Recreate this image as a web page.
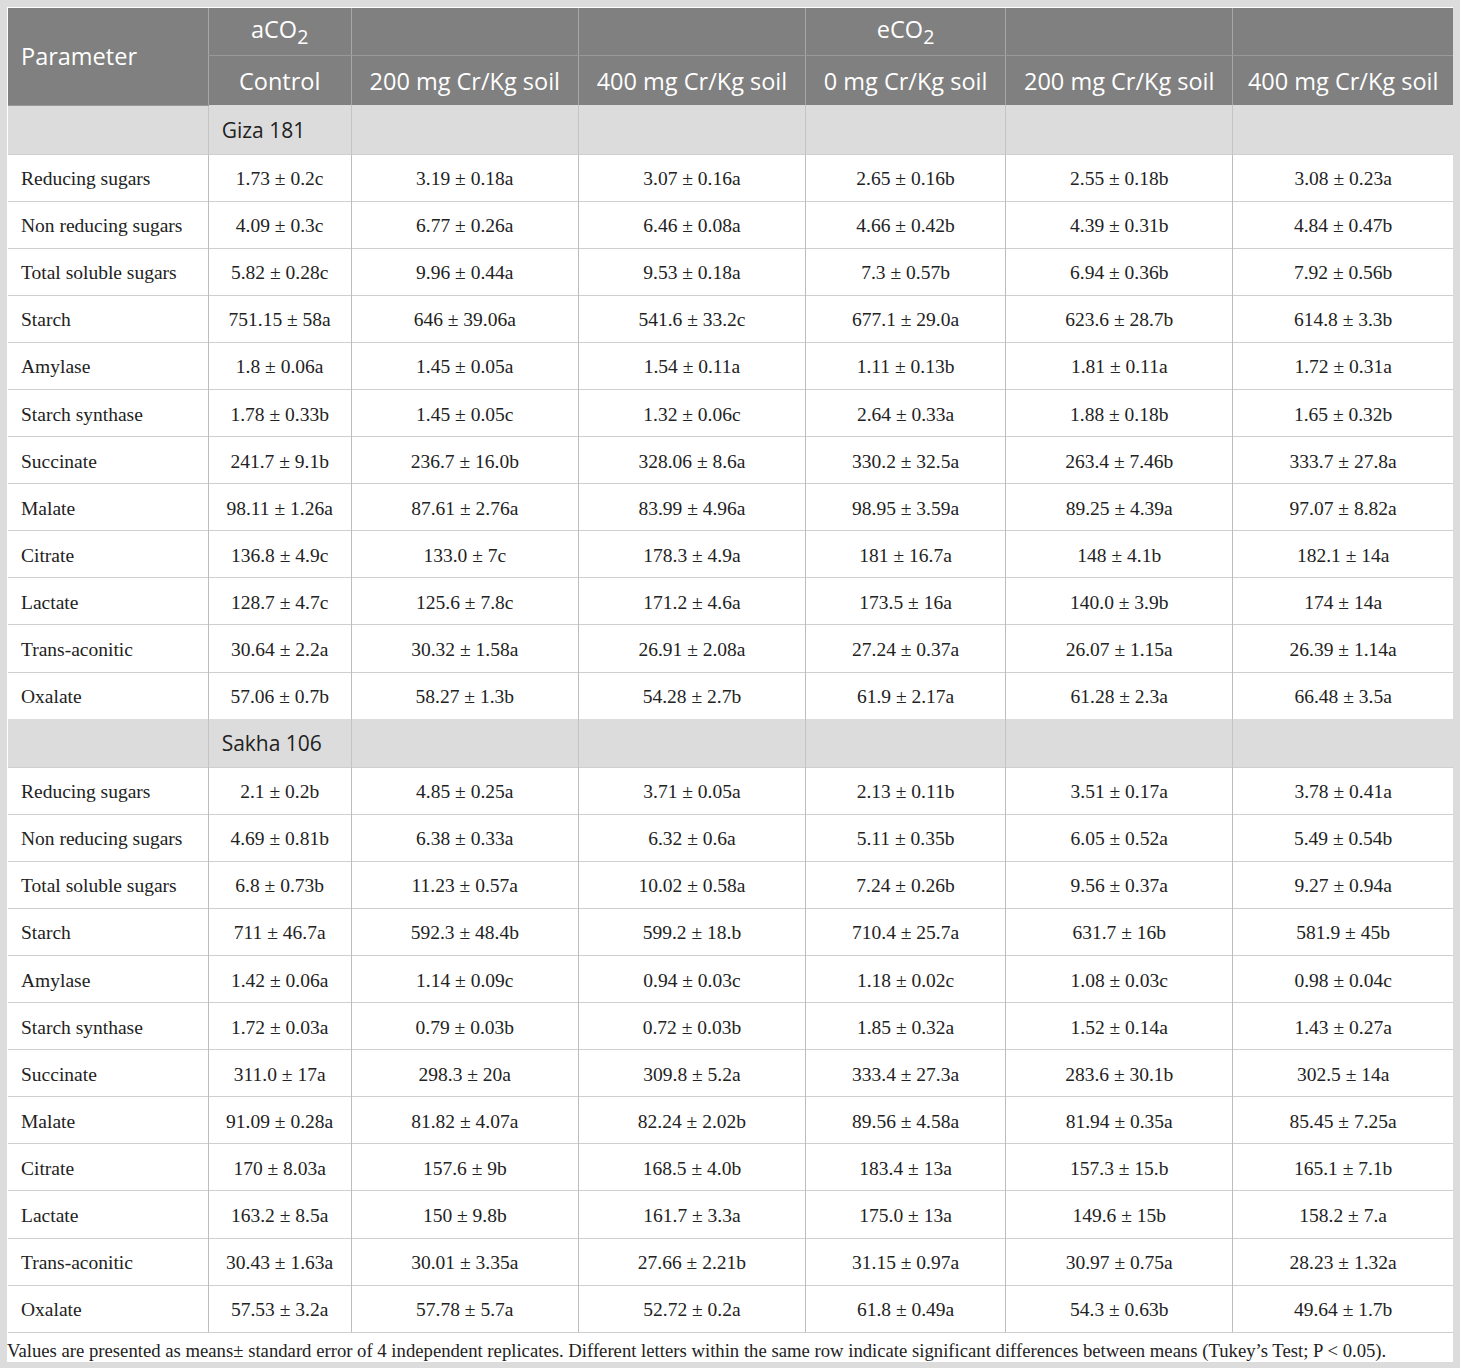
<!DOCTYPE html>
<html lang="en">
<head>
<meta charset="UTF-8">
<title>Sugars and organic acids table</title>
<script src="https://cdn.jsdelivr.net/npm/chart.js@4.4.1/dist/chart.umd.min.js"></script>
<style>
    html, body { margin: 0; padding: 0; background: #dcdcdc; }
    .panel {
        position: absolute; left: 7px; top: 7px;
        width: 1446px; height: 1355px;
        background: #fff;
    }
    table {
        border-collapse: collapse;
        table-layout: fixed;
        width: 1445px;
        margin-left: 1px; margin-top: 1px;
    }
    th {
        background: #808080; color: #fff;
        font-family: "Open Sans", sans-serif; font-weight: normal;
        font-size: 23.5px; text-align: center;
        border-left: 1px solid #a6a6a6;
        padding: 0;
    }
    th.first { text-align: left; padding-left: 13px; border-left: none; }
    tr.h1 th { height: 47px; border-bottom: 1px solid #999; }
    tr.h2 th { height: 49px; }
    td {
        font-family: "Liberation Serif", "Times New Roman", serif;
        font-size: 19.5px; color: #222;
        text-align: center; height: 43.1px; padding: 3px 0 0 0;
        border-left: 1px solid #bdbdbd;
        border-top: 1px solid #cfcfcf;
    }
    td.param { text-align: left; padding-left: 13px; border-left: none; }
    tr.group td {
        background: #dcdcdc; height: 47px; padding: 1px 0 0 0;
        font-family: "Open Sans", sans-serif; font-size: 21px; color: #222;
        border-left: 1px solid #c4c4c4; border-top: none;
    }
    tr.group td.gname { text-align: left; padding-left: 13px; }
    tr.group td:first-child { border-left: none; }
    tr.last td { border-bottom: 1px solid #cfcfcf; }
    .note {
        font-family: "Liberation Serif", "Times New Roman", serif;
        font-size: 18.7px; color: #222;
        margin: 7px 0 0 0; white-space: nowrap;
    }
</style>
</head>
<body>
<div class="panel">
    <table id="tbl"></table>
    <div class="note" id="note"></div>
</div>
<script>
    var colWidths = [200, 143, 227, 227, 200, 227, 220];
    var groupHeads = ["aCO<sub>2</sub>", "", "", "eCO<sub>2</sub>", "", ""];
    var treatments = ["Control", "200 mg Cr/Kg soil", "400 mg Cr/Kg soil",
                      "0 mg Cr/Kg soil", "200 mg Cr/Kg soil", "400 mg Cr/Kg soil"];
    var parameters = ["Reducing sugars", "Non reducing sugars", "Total soluble sugars",
                      "Starch", "Amylase", "Starch synthase", "Succinate", "Malate",
                      "Citrate", "Lactate", "Trans-aconitic", "Oxalate"];
    var cultivars = ["Giza 181", "Sakha 106"];

    var giza181 = [
        ["1.73 ± 0.2c", "3.19 ± 0.18a", "3.07 ± 0.16a", "2.65 ± 0.16b", "2.55 ± 0.18b", "3.08 ± 0.23a"],
        ["4.09 ± 0.3c", "6.77 ± 0.26a", "6.46 ± 0.08a", "4.66 ± 0.42b", "4.39 ± 0.31b", "4.84 ± 0.47b"],
        ["5.82 ± 0.28c", "9.96 ± 0.44a", "9.53 ± 0.18a", "7.3 ± 0.57b", "6.94 ± 0.36b", "7.92 ± 0.56b"],
        ["751.15 ± 58a", "646 ± 39.06a", "541.6 ± 33.2c", "677.1 ± 29.0a", "623.6 ± 28.7b", "614.8 ± 3.3b"],
        ["1.8 ± 0.06a", "1.45 ± 0.05a", "1.54 ± 0.11a", "1.11 ± 0.13b", "1.81 ± 0.11a", "1.72 ± 0.31a"],
        ["1.78 ± 0.33b", "1.45 ± 0.05c", "1.32 ± 0.06c", "2.64 ± 0.33a", "1.88 ± 0.18b", "1.65 ± 0.32b"],
        ["241.7 ± 9.1b", "236.7 ± 16.0b", "328.06 ± 8.6a", "330.2 ± 32.5a", "263.4 ± 7.46b", "333.7 ± 27.8a"],
        ["98.11 ± 1.26a", "87.61 ± 2.76a", "83.99 ± 4.96a", "98.95 ± 3.59a", "89.25 ± 4.39a", "97.07 ± 8.82a"],
        ["136.8 ± 4.9c", "133.0 ± 7c", "178.3 ± 4.9a", "181 ± 16.7a", "148 ± 4.1b", "182.1 ± 14a"],
        ["128.7 ± 4.7c", "125.6 ± 7.8c", "171.2 ± 4.6a", "173.5 ± 16a", "140.0 ± 3.9b", "174 ± 14a"],
        ["30.64 ± 2.2a", "30.32 ± 1.58a", "26.91 ± 2.08a", "27.24 ± 0.37a", "26.07 ± 1.15a", "26.39 ± 1.14a"],
        ["57.06 ± 0.7b", "58.27 ± 1.3b", "54.28 ± 2.7b", "61.9 ± 2.17a", "61.28 ± 2.3a", "66.48 ± 3.5a"]
    ];
    var sakha106 = [
        ["2.1 ± 0.2b", "4.85 ± 0.25a", "3.71 ± 0.05a", "2.13 ± 0.11b", "3.51 ± 0.17a", "3.78 ± 0.41a"],
        ["4.69 ± 0.81b", "6.38 ± 0.33a", "6.32 ± 0.6a", "5.11 ± 0.35b", "6.05 ± 0.52a", "5.49 ± 0.54b"],
        ["6.8 ± 0.73b", "11.23 ± 0.57a", "10.02 ± 0.58a", "7.24 ± 0.26b", "9.56 ± 0.37a", "9.27 ± 0.94a"],
        ["711 ± 46.7a", "592.3 ± 48.4b", "599.2 ± 18.b", "710.4 ± 25.7a", "631.7 ± 16b", "581.9 ± 45b"],
        ["1.42 ± 0.06a", "1.14 ± 0.09c", "0.94 ± 0.03c", "1.18 ± 0.02c", "1.08 ± 0.03c", "0.98 ± 0.04c"],
        ["1.72 ± 0.03a", "0.79 ± 0.03b", "0.72 ± 0.03b", "1.85 ± 0.32a", "1.52 ± 0.14a", "1.43 ± 0.27a"],
        ["311.0 ± 17a", "298.3 ± 20a", "309.8 ± 5.2a", "333.4 ± 27.3a", "283.6 ± 30.1b", "302.5 ± 14a"],
        ["91.09 ± 0.28a", "81.82 ± 4.07a", "82.24 ± 2.02b", "89.56 ± 4.58a", "81.94 ± 0.35a", "85.45 ± 7.25a"],
        ["170 ± 8.03a", "157.6 ± 9b", "168.5 ± 4.0b", "183.4 ± 13a", "157.3 ± 15.b", "165.1 ± 7.1b"],
        ["163.2 ± 8.5a", "150 ± 9.8b", "161.7 ± 3.3a", "175.0 ± 13a", "149.6 ± 15b", "158.2 ± 7.a"],
        ["30.43 ± 1.63a", "30.01 ± 3.35a", "27.66 ± 2.21b", "31.15 ± 0.97a", "30.97 ± 0.75a", "28.23 ± 1.32a"],
        ["57.53 ± 3.2a", "57.78 ± 5.7a", "52.72 ± 0.2a", "61.8 ± 0.49a", "54.3 ± 0.63b", "49.64 ± 1.7b"]
    ];
    var footnote = "Values are presented as means± standard error of 4 independent replicates. " +
                   "Different letters within the same row indicate significant differences between means (Tukey’s Test; P < 0.05).";

    var tbl = document.getElementById("tbl");
    var html = "<colgroup>";
    colWidths.forEach(function (w) { html += '<col style="width:' + w + 'px">'; });
    html += "</colgroup>";

    html += '<tr class="h1"><th class="first" rowspan="2">Parameter</th>';
    groupHeads.forEach(function (g) { html += "<th>" + g + "</th>"; });
    html += "</tr>";
    html += '<tr class="h2">';
    treatments.forEach(function (t, i) {
        html += '<th' + (i === 0 ? ' style="border-left:1px solid #a6a6a6"' : '') + '>' + t + '</th>';
    });
    html += "</tr>";

    [giza181, sakha106].forEach(function (rows, gi) {
        html += '<tr class="group"><td></td><td class="gname">' + cultivars[gi] + '</td>';
        for (var k = 1; k < treatments.length; k++) html += "<td></td>";
        html += "</tr>";
        rows.forEach(function (vals, ri) {
            var last = (gi === 1 && ri === rows.length - 1);
            html += '<tr' + (last ? ' class="last"' : '') + '><td class="param">' + parameters[ri] + '</td>';
            vals.forEach(function (v) { html += "<td>" + v + "</td>"; });
            html += "</tr>";
        });
    });
    tbl.innerHTML = html;
    document.getElementById("note").textContent = footnote;
</script>
</body>
</html>
